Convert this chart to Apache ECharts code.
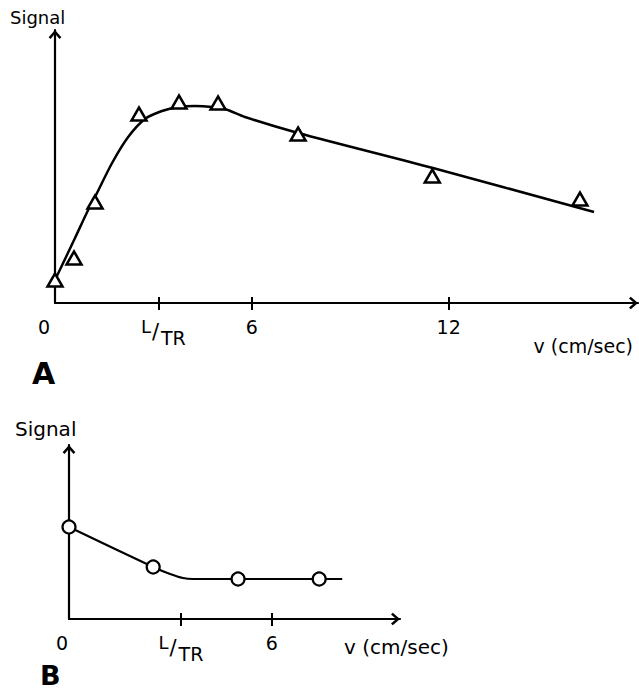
<!DOCTYPE html>
<html lang="en">
<head>
    <meta charset="UTF-8">
    <title>Signal vs v</title>
    <style>
        html, body { margin: 0; padding: 0; background: #fff; }
        #main { width: 639px; height: 691px; }
    </style>
</head>
<body>
<div id="main"></div>
<script src="https://cdn.jsdelivr.net/npm/echarts@6/dist/echarts.min.js"></script>
<script>
    // panel A: measured triangles and the drawn curve through them
    var aPointsX = [0, 0.58, 1.22, 2.56, 3.78, 4.97, 7.41, 11.5, 16.0];
    var aPointsY = [23, 45, 101, 189, 201, 200, 169, 127, 104];
    var aCurveX = [0, 0.61, 1.01, 1.22, 1.74, 2.23, 2.74, 3.26, 3.75, 4.27, 4.79, 5.18, 5.79, 7.41, 11.52, 16.43];
    var aCurveY = [23, 65, 93, 106, 140, 166, 184, 192, 196, 197, 196, 194, 186, 170, 135, 91];
    var aTickValues = [0, 3.15, 6, 12];
    var aTickLabels = ['0', 'L/TR', '6', '12'];

    // panel B: circles and curve
    var bPointsX = [0, 2.49, 5.0, 7.4];
    var bPointsY = [92, 52, 40, 40];
    var bCurveX = [0, 2.49, 2.99, 3.37, 3.67, 5.0, 7.4, 8.08];
    var bCurveY = [92, 52, 45, 41, 40, 40, 40, 40];
    var bTickValues = [0, 3.31, 6];
    var bTickLabels = ['0', 'L/TR', '6'];

    var FONT = '"DejaVu Sans", sans-serif';
    var arrow = 'path://M6.5,0 L13,7.4 L11.1,9.2 L6.5,3.8 L1.9,9.2 L0,7.4 Z';

    function zip(xs, ys) {
        return xs.map(function (x, i) { return [x, ys[i]]; });
    }

    function tickFormatter(values, labels) {
        return function (v) {
            var i = values.indexOf(v);
            var s = i < 0 ? '' : labels[i];
            if (s === 'L/TR') return '{l|L}{s|/}{t|TR}';
            if (s === '0') return '{z|0}';
            return s;
        };
    }

    function richFor(size, zeroShift, lShift) {
        return {
            l: {fontSize: size - 1, fontFamily: FONT, color: '#000', verticalAlign: 'top', lineHeight: 30,
                padding: [0, 0, 0, lShift]},
            s: {fontSize: size + 2, fontFamily: FONT, color: '#000', verticalAlign: 'middle', lineHeight: 30,
                padding: [0, 2, 0, 1]},
            t: {fontSize: size, fontFamily: FONT, color: '#000', verticalAlign: 'bottom', lineHeight: 30},
            z: {fontSize: size, fontFamily: FONT, color: '#000', padding: [0, zeroShift, 0, 0]}
        };
    }

    function mainX(gridIndex, max, values, labels, size, zeroShift, lShift) {
        return {
            type: 'value', gridIndex: gridIndex, min: 0, max: max, position: 'bottom',
            splitLine: {show: false},
            axisLine: {
                lineStyle: {color: '#000', width: 2.2},
                symbol: ['none', arrow], symbolSize: [14, 9], symbolOffset: [0, -4.5]
            },
            axisTick: {show: true, length: 7, lineStyle: {color: '#000', width: 2},
                customValues: values.slice(1)},
            axisLabel: {
                show: true, margin: 14, color: '#000', fontSize: size, fontFamily: FONT,
                customValues: values,
                formatter: tickFormatter(values, labels),
                rich: richFor(size, zeroShift, lShift)
            }
        };
    }

    // second axis on the same grid: the inner half of each tick
    function innerX(gridIndex, max, values) {
        return {
            type: 'value', gridIndex: gridIndex, min: 0, max: max, position: 'bottom',
            splitLine: {show: false},
            axisLine: {show: false},
            axisLabel: {show: false},
            axisTick: {show: true, inside: true, length: 6, lineStyle: {color: '#000', width: 2},
                customValues: values.slice(1)}
        };
    }

    function mainY(gridIndex, max) {
        return {
            type: 'value', gridIndex: gridIndex, min: 0, max: max,
            splitLine: {show: false},
            axisLine: {
                show: true, onZero: false,
                lineStyle: {color: '#000', width: 2.2},
                symbol: ['none', arrow], symbolSize: [14, 9], symbolOffset: [0, -4.5]
            },
            axisTick: {show: false},
            axisLabel: {show: false}
        };
    }

    var myChart = echarts.init(document.getElementById('main'), null, {renderer: 'svg'});

    var option = {
        backgroundColor: '#fff',
        animation: false,
        grid: [
            {left: 55, top: 30, width: 583, height: 273},
            {left: 69, top: 445, width: 331, height: 174}
        ],
        xAxis: [
            mainX(0, 17.77, aTickValues, aTickLabels, 19, 22, 10),
            innerX(0, 17.77, aTickValues),
            mainX(1, 9.79, bTickValues, bTickLabels, 19, 14, 0),
            innerX(1, 9.79, bTickValues)
        ],
        yAxis: [mainY(0, 273), mainY(1, 174)],
        series: [
            {
                type: 'line', xAxisIndex: 0, yAxisIndex: 0,
                data: zip(aCurveX, aCurveY), smooth: 0.3, showSymbol: false,
                lineStyle: {color: '#000', width: 2.5}, z: 2
            },
            {
                type: 'scatter', xAxisIndex: 0, yAxisIndex: 0,
                data: zip(aPointsX, aPointsY), symbol: 'triangle', symbolSize: [15, 13],
                itemStyle: {color: '#fff', borderColor: '#000', borderWidth: 2.5, opacity: 1}, z: 3
            },
            {
                type: 'line', xAxisIndex: 2, yAxisIndex: 1,
                data: zip(bCurveX, bCurveY), smooth: 0.2, showSymbol: false,
                lineStyle: {color: '#000', width: 2.2}, z: 2
            },
            {
                type: 'scatter', xAxisIndex: 2, yAxisIndex: 1,
                data: zip(bPointsX, bPointsY), symbol: 'circle', symbolSize: 13,
                itemStyle: {color: '#fff', borderColor: '#000', borderWidth: 2.2, opacity: 1}, z: 3
            }
        ],
        graphic: [
            {type: 'text', left: 10, top: 8, style: {text: 'Signal', font: '18px ' + FONT, fill: '#000'}},
            {type: 'text', right: 6, top: 336, style: {text: 'v (cm/sec)', font: '19px ' + FONT, fill: '#000'}},
            {type: 'text', left: 32, top: 358, style: {text: 'A', font: 'bold 30px ' + FONT, fill: '#000'}},
            {type: 'text', left: 15, top: 419, style: {text: 'Signal', font: '20px ' + FONT, fill: '#000'}},
            {type: 'text', left: 344, top: 637, style: {text: 'v (cm/sec)', font: '20px ' + FONT, fill: '#000'}},
            {type: 'text', left: 40, top: 662, style: {text: 'B', font: 'bold 27px ' + FONT, fill: '#000'}}
        ]
    };

    myChart.setOption(option);
</script>
</body>
</html>
